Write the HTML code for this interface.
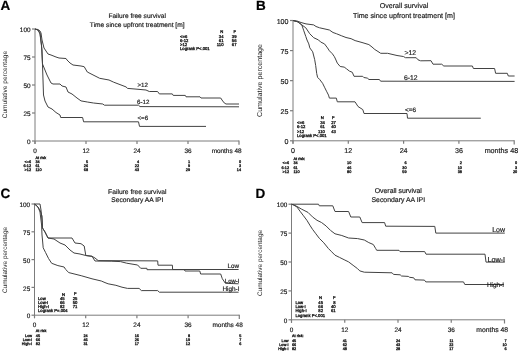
<!DOCTYPE html>
<html><head><meta charset="utf-8"><style>
html,body{margin:0;padding:0;background:#fff;width:520px;height:355px;overflow:hidden;}
svg{display:block;font-family:"Liberation Sans", sans-serif;filter:blur(0.4px);text-rendering:geometricPrecision;}
</style></head><body>
<svg width="520" height="355" viewBox="0 0 520 355" font-family='"Liberation Sans", sans-serif'>
<rect width="520" height="355" fill="#fff"/>
<text x="0.6" y="9.6" font-size="13.5" text-anchor="start" font-weight="bold" fill="#000" stroke="#000" stroke-width="0.18" >A</text>
<text x="137.2" y="17.8" font-size="6.6" text-anchor="middle" font-weight="normal" fill="#1a1a1a" stroke="#1a1a1a" stroke-width="0.18" >Failure free survival</text>
<text x="137.2" y="26.5" font-size="6.6" text-anchor="middle" font-weight="normal" fill="#1a1a1a" stroke="#1a1a1a" stroke-width="0.18" >Time since upfront treatment [m]</text>
<line x1="35" y1="29" x2="35" y2="144.0" stroke="#7c7c7c" stroke-width="1.0"/>
<line x1="35" y1="141.0" x2="239" y2="141.0" stroke="#7c7c7c" stroke-width="1.0"/>
<line x1="32" y1="29.0" x2="35" y2="29.0" stroke="#7c7c7c" stroke-width="1.2"/>
<text x="30.5" y="32.2" font-size="6.4" text-anchor="end" font-weight="normal" fill="#1a1a1a" stroke="#1a1a1a" stroke-width="0.18" >100</text>
<line x1="32" y1="57.0" x2="35" y2="57.0" stroke="#7c7c7c" stroke-width="1.2"/>
<text x="30.5" y="60.2" font-size="6.4" text-anchor="end" font-weight="normal" fill="#1a1a1a" stroke="#1a1a1a" stroke-width="0.18" >75</text>
<line x1="32" y1="85.0" x2="35" y2="85.0" stroke="#7c7c7c" stroke-width="1.2"/>
<text x="30.5" y="88.2" font-size="6.4" text-anchor="end" font-weight="normal" fill="#1a1a1a" stroke="#1a1a1a" stroke-width="0.18" >50</text>
<line x1="32" y1="113.0" x2="35" y2="113.0" stroke="#7c7c7c" stroke-width="1.2"/>
<text x="30.5" y="116.2" font-size="6.4" text-anchor="end" font-weight="normal" fill="#1a1a1a" stroke="#1a1a1a" stroke-width="0.18" >25</text>
<line x1="32" y1="141.0" x2="35" y2="141.0" stroke="#7c7c7c" stroke-width="1.2"/>
<text x="30.5" y="144.2" font-size="6.4" text-anchor="end" font-weight="normal" fill="#1a1a1a" stroke="#1a1a1a" stroke-width="0.18" >0</text>
<line x1="35" y1="141.0" x2="35" y2="144.0" stroke="#7c7c7c" stroke-width="1.2"/>
<text x="35" y="153.0" font-size="6.4" text-anchor="middle" font-weight="normal" fill="#1a1a1a" stroke="#1a1a1a" stroke-width="0.18" >0</text>
<line x1="86" y1="141.0" x2="86" y2="144.0" stroke="#7c7c7c" stroke-width="1.2"/>
<text x="86" y="153.0" font-size="6.4" text-anchor="middle" font-weight="normal" fill="#1a1a1a" stroke="#1a1a1a" stroke-width="0.18" >12</text>
<line x1="137" y1="141.0" x2="137" y2="144.0" stroke="#7c7c7c" stroke-width="1.2"/>
<text x="137" y="153.0" font-size="6.4" text-anchor="middle" font-weight="normal" fill="#1a1a1a" stroke="#1a1a1a" stroke-width="0.18" >24</text>
<line x1="188" y1="141.0" x2="188" y2="144.0" stroke="#7c7c7c" stroke-width="1.2"/>
<text x="188" y="153.0" font-size="6.4" text-anchor="middle" font-weight="normal" fill="#1a1a1a" stroke="#1a1a1a" stroke-width="0.18" >36</text>
<line x1="239" y1="140.5" x2="239" y2="144.7" stroke="#7c7c7c" stroke-width="1.2"/>
<text x="241.5" y="153.0" font-size="6.4" text-anchor="end" font-weight="normal" fill="#1a1a1a" stroke="#1a1a1a" stroke-width="0.18" >months 48</text>
<text x="0" y="0" font-size="6.55" text-anchor="middle" fill="#1a1a1a" transform="translate(6.9,84.6) rotate(-90)">Cumulative percentage</text>
<polyline points="35,29 38,29.5 40,31 41,33 42,40 44,48 46,51 48,54 51,55 56,57 59,58 66,58.5 67,60 70,63 73,65 81,66 84.2,66.7 87.3,72 99.7,78.3 109,80 113.7,82.2 126,86.9 127.6,88.4 137,89.2 146,90 149.3,91.5 157.6,91.5 159.3,93.9 172.3,93.9 173.2,95.4 185.3,95.4 186,96.8 200,96.8 201,98 220.7,98 222,100 224.2,102.9 226,104 239,104" fill="none" stroke="#424242" stroke-width="1.0" stroke-linejoin="round"/>
<polyline points="35,29 38,30 40,33 41.5,45 42,55 42.5,64 47,75 51,83 53,84 60,84 62,86 66,87 68,92 72,94 77,98 81,100.9 87.3,102 93.5,103 102.8,104 104.4,105.2 138.5,105.2 140,106.6 239,106.8" fill="none" stroke="#424242" stroke-width="1.0" stroke-linejoin="round"/>
<polyline points="35,29 38,30 40,34 42,50 43,80 43.5,95 45,101 48,107 52,109 56,112.5 60,115 60.7,117.5 82.6,117.5 83.6,121.8 138.5,121.8 139.5,126.4 206,126.4" fill="none" stroke="#424242" stroke-width="1.0" stroke-linejoin="round"/>
<text x="137.5" y="87" font-size="6.2" text-anchor="start" font-weight="normal" fill="#1a1a1a" stroke="#1a1a1a" stroke-width="0.18" >&gt;12</text>
<text x="137" y="104" font-size="6.2" text-anchor="start" font-weight="normal" fill="#1a1a1a" stroke="#1a1a1a" stroke-width="0.18" >6-12</text>
<text x="137.5" y="120.2" font-size="6.2" text-anchor="start" font-weight="normal" fill="#1a1a1a" stroke="#1a1a1a" stroke-width="0.18" >&lt;=6</text>
<text x="221.7" y="33.3" font-size="4.2" text-anchor="middle" font-weight="normal" fill="#1a1a1a" stroke="#1a1a1a" stroke-width="0.32" >N</text>
<text x="234.8" y="33.3" font-size="4.2" text-anchor="middle" font-weight="normal" fill="#1a1a1a" stroke="#1a1a1a" stroke-width="0.32" >F</text>
<text x="180" y="37.5" font-size="4.2" text-anchor="start" font-weight="normal" fill="#1a1a1a" stroke="#1a1a1a" stroke-width="0.32" >&lt;=6</text>
<text x="223.5" y="37.5" font-size="4.2" text-anchor="end" font-weight="normal" fill="#1a1a1a" stroke="#1a1a1a" stroke-width="0.32" >34</text>
<text x="236.5" y="37.5" font-size="4.2" text-anchor="end" font-weight="normal" fill="#1a1a1a" stroke="#1a1a1a" stroke-width="0.32" >39</text>
<text x="180" y="41.8" font-size="4.2" text-anchor="start" font-weight="normal" fill="#1a1a1a" stroke="#1a1a1a" stroke-width="0.32" >6-12</text>
<text x="223.5" y="41.8" font-size="4.2" text-anchor="end" font-weight="normal" fill="#1a1a1a" stroke="#1a1a1a" stroke-width="0.32" >61</text>
<text x="236.5" y="41.8" font-size="4.2" text-anchor="end" font-weight="normal" fill="#1a1a1a" stroke="#1a1a1a" stroke-width="0.32" >56</text>
<text x="180" y="46.1" font-size="4.2" text-anchor="start" font-weight="normal" fill="#1a1a1a" stroke="#1a1a1a" stroke-width="0.32" >&gt;12</text>
<text x="223.5" y="46.1" font-size="4.2" text-anchor="end" font-weight="normal" fill="#1a1a1a" stroke="#1a1a1a" stroke-width="0.32" >110</text>
<text x="236.5" y="46.1" font-size="4.2" text-anchor="end" font-weight="normal" fill="#1a1a1a" stroke="#1a1a1a" stroke-width="0.32" >67</text>
<text x="180" y="50.4" font-size="4.2" text-anchor="start" font-weight="normal" fill="#1a1a1a" stroke="#1a1a1a" stroke-width="0.32" >Logrank P&lt;.001</text>
<text x="35.5" y="159" font-size="3.8" text-anchor="start" font-weight="normal" fill="#1a1a1a" stroke="#1a1a1a" stroke-width="0.32" >At risk</text>
<text x="31" y="163.0" font-size="3.8" text-anchor="end" font-weight="normal" fill="#1a1a1a" stroke="#1a1a1a" stroke-width="0.32" >&lt;=6</text>
<text x="35.5" y="163.0" font-size="3.8" text-anchor="start" font-weight="normal" fill="#1a1a1a" stroke="#1a1a1a" stroke-width="0.32" >34</text>
<text x="88" y="163.0" font-size="3.8" text-anchor="end" font-weight="normal" fill="#1a1a1a" stroke="#1a1a1a" stroke-width="0.32" >5</text>
<text x="139" y="163.0" font-size="3.8" text-anchor="end" font-weight="normal" fill="#1a1a1a" stroke="#1a1a1a" stroke-width="0.32" >4</text>
<text x="190" y="163.0" font-size="3.8" text-anchor="end" font-weight="normal" fill="#1a1a1a" stroke="#1a1a1a" stroke-width="0.32" >1</text>
<text x="241" y="163.0" font-size="3.8" text-anchor="end" font-weight="normal" fill="#1a1a1a" stroke="#1a1a1a" stroke-width="0.32" >0</text>
<text x="31" y="167.2" font-size="3.8" text-anchor="end" font-weight="normal" fill="#1a1a1a" stroke="#1a1a1a" stroke-width="0.32" >6-12</text>
<text x="35.5" y="167.2" font-size="3.8" text-anchor="start" font-weight="normal" fill="#1a1a1a" stroke="#1a1a1a" stroke-width="0.32" >61</text>
<text x="88" y="167.2" font-size="3.8" text-anchor="end" font-weight="normal" fill="#1a1a1a" stroke="#1a1a1a" stroke-width="0.32" >26</text>
<text x="139" y="167.2" font-size="3.8" text-anchor="end" font-weight="normal" fill="#1a1a1a" stroke="#1a1a1a" stroke-width="0.32" >22</text>
<text x="190" y="167.2" font-size="3.8" text-anchor="end" font-weight="normal" fill="#1a1a1a" stroke="#1a1a1a" stroke-width="0.32" >9</text>
<text x="241" y="167.2" font-size="3.8" text-anchor="end" font-weight="normal" fill="#1a1a1a" stroke="#1a1a1a" stroke-width="0.32" >3</text>
<text x="31" y="171.4" font-size="3.8" text-anchor="end" font-weight="normal" fill="#1a1a1a" stroke="#1a1a1a" stroke-width="0.32" >&gt;12</text>
<text x="35.5" y="171.4" font-size="3.8" text-anchor="start" font-weight="normal" fill="#1a1a1a" stroke="#1a1a1a" stroke-width="0.32" >110</text>
<text x="88" y="171.4" font-size="3.8" text-anchor="end" font-weight="normal" fill="#1a1a1a" stroke="#1a1a1a" stroke-width="0.32" >68</text>
<text x="139" y="171.4" font-size="3.8" text-anchor="end" font-weight="normal" fill="#1a1a1a" stroke="#1a1a1a" stroke-width="0.32" >43</text>
<text x="190" y="171.4" font-size="3.8" text-anchor="end" font-weight="normal" fill="#1a1a1a" stroke="#1a1a1a" stroke-width="0.32" >29</text>
<text x="241" y="171.4" font-size="3.8" text-anchor="end" font-weight="normal" fill="#1a1a1a" stroke="#1a1a1a" stroke-width="0.32" >14</text>
<text x="255.9" y="9.6" font-size="13.5" text-anchor="start" font-weight="bold" fill="#000" stroke="#000" stroke-width="0.18" >B</text>
<text x="404" y="8.1" font-size="7.1" text-anchor="middle" font-weight="normal" fill="#1a1a1a" stroke="#1a1a1a" stroke-width="0.18" >Overall survival</text>
<text x="404" y="17.9" font-size="7.1" text-anchor="middle" font-weight="normal" fill="#1a1a1a" stroke="#1a1a1a" stroke-width="0.18" >Time since upfront treatment [m]</text>
<line x1="293" y1="20.5" x2="293" y2="143.8" stroke="#7c7c7c" stroke-width="1.0"/>
<line x1="293" y1="140.8" x2="514.2" y2="140.8" stroke="#7c7c7c" stroke-width="1.0"/>
<line x1="290" y1="20.5" x2="293" y2="20.5" stroke="#7c7c7c" stroke-width="1.2"/>
<text x="288.5" y="23.7" font-size="7.1" text-anchor="end" font-weight="normal" fill="#1a1a1a" stroke="#1a1a1a" stroke-width="0.18" >100</text>
<line x1="290" y1="50.575" x2="293" y2="50.575" stroke="#7c7c7c" stroke-width="1.2"/>
<text x="288.5" y="53.775000000000006" font-size="7.1" text-anchor="end" font-weight="normal" fill="#1a1a1a" stroke="#1a1a1a" stroke-width="0.18" >75</text>
<line x1="290" y1="80.65" x2="293" y2="80.65" stroke="#7c7c7c" stroke-width="1.2"/>
<text x="288.5" y="83.85000000000001" font-size="7.1" text-anchor="end" font-weight="normal" fill="#1a1a1a" stroke="#1a1a1a" stroke-width="0.18" >50</text>
<line x1="290" y1="110.72500000000001" x2="293" y2="110.72500000000001" stroke="#7c7c7c" stroke-width="1.2"/>
<text x="288.5" y="113.92500000000001" font-size="7.1" text-anchor="end" font-weight="normal" fill="#1a1a1a" stroke="#1a1a1a" stroke-width="0.18" >25</text>
<line x1="290" y1="140.8" x2="293" y2="140.8" stroke="#7c7c7c" stroke-width="1.2"/>
<text x="288.5" y="144.0" font-size="7.1" text-anchor="end" font-weight="normal" fill="#1a1a1a" stroke="#1a1a1a" stroke-width="0.18" >0</text>
<line x1="293.0" y1="140.8" x2="293.0" y2="143.8" stroke="#7c7c7c" stroke-width="1.2"/>
<text x="293.0" y="152.8" font-size="7.1" text-anchor="middle" font-weight="normal" fill="#1a1a1a" stroke="#1a1a1a" stroke-width="0.18" >0</text>
<line x1="348.3" y1="140.8" x2="348.3" y2="143.8" stroke="#7c7c7c" stroke-width="1.2"/>
<text x="348.3" y="152.8" font-size="7.1" text-anchor="middle" font-weight="normal" fill="#1a1a1a" stroke="#1a1a1a" stroke-width="0.18" >12</text>
<line x1="403.6" y1="140.8" x2="403.6" y2="143.8" stroke="#7c7c7c" stroke-width="1.2"/>
<text x="403.6" y="152.8" font-size="7.1" text-anchor="middle" font-weight="normal" fill="#1a1a1a" stroke="#1a1a1a" stroke-width="0.18" >24</text>
<line x1="458.9" y1="140.8" x2="458.9" y2="143.8" stroke="#7c7c7c" stroke-width="1.2"/>
<text x="458.9" y="152.8" font-size="7.1" text-anchor="middle" font-weight="normal" fill="#1a1a1a" stroke="#1a1a1a" stroke-width="0.18" >36</text>
<line x1="514.2" y1="140.3" x2="514.2" y2="144.5" stroke="#7c7c7c" stroke-width="1.2"/>
<text x="518.2" y="152.8" font-size="7.2" text-anchor="end" font-weight="normal" fill="#1a1a1a" stroke="#1a1a1a" stroke-width="0.18" >months 48</text>
<text x="0" y="0" font-size="7.1" text-anchor="middle" fill="#1a1a1a" transform="translate(262.4,80.5) rotate(-90)">Cumulative percentage</text>
<polyline points="293,20.5 297,21 301,22.5 306,23.9 313.7,24.9 316,26.5 319.6,27.8 325,29 329.4,30 333,32.5 336.4,33.7 341.3,35.7 346,37.5 351.1,38.7 355.1,40.6 362,42.5 368.9,44.6 372,47 374.8,49.5 378,51.5 380.7,53.3 387.6,53.3 397,55.5 403.4,56.5 405.5,57.7 416.2,57.7 418,59.8 420.6,60.8 431,60.7 433,64.2 441.7,64.2 443.8,66 472.4,66 473.4,68.5 494.6,68.5 495.6,73.3 507.3,73.3 508.3,76 514.6,76" fill="none" stroke="#424242" stroke-width="1.0" stroke-linejoin="round"/>
<polyline points="293,20.5 297.9,21.9 301.8,24.9 305.8,27.8 309.7,33.7 313.7,37.7 318.6,40 320.6,42 324.5,43.9 327.5,47.9 329.4,50.8 332.4,53.8 334.4,56.7 335.5,59 337.3,63.1 340.2,66.5 344.2,67.1 346.5,68.8 349.4,71.1 352.3,72.3 354,76.3 362.7,76.3 363.8,77.5 367.3,78.1 369,79.5 379.4,79.5 380.6,81.2 514.6,81.4" fill="none" stroke="#424242" stroke-width="1.0" stroke-linejoin="round"/>
<polyline points="293,20.5 297.9,21.9 301.8,24.9 303.8,30.8 305.8,36.5 307,40 308.8,43.9 309.8,47.9 312.7,51.8 314.7,59.7 315.7,65.6 316.7,73.5 317.6,77.4 319.6,79.4 322.6,83.3 324.5,87.2 326.5,91.2 328.5,95.1 329.4,98.1 336.3,98.1 337.3,101.8 355,101.8 358,106.5 362.8,109.6 364,113.5 407,113.5 407.5,118.2 480.8,118.2" fill="none" stroke="#424242" stroke-width="1.0" stroke-linejoin="round"/>
<text x="404.5" y="54.7" font-size="6.8" text-anchor="start" font-weight="normal" fill="#1a1a1a" stroke="#1a1a1a" stroke-width="0.18" >&gt;12</text>
<text x="404" y="79.6" font-size="6.8" text-anchor="start" font-weight="normal" fill="#1a1a1a" stroke="#1a1a1a" stroke-width="0.18" >6-12</text>
<text x="405" y="112.2" font-size="6.4" text-anchor="start" font-weight="normal" fill="#1a1a1a" stroke="#1a1a1a" stroke-width="0.18" >&lt;=6</text>
<text x="322.2" y="119.2" font-size="4.2" text-anchor="middle" font-weight="normal" fill="#1a1a1a" stroke="#1a1a1a" stroke-width="0.32" >N</text>
<text x="333.2" y="119.2" font-size="4.2" text-anchor="middle" font-weight="normal" fill="#1a1a1a" stroke="#1a1a1a" stroke-width="0.32" >F</text>
<text x="297" y="123.8" font-size="4.2" text-anchor="start" font-weight="normal" fill="#1a1a1a" stroke="#1a1a1a" stroke-width="0.32" >&lt;=6</text>
<text x="324.8" y="123.8" font-size="4.2" text-anchor="end" font-weight="normal" fill="#1a1a1a" stroke="#1a1a1a" stroke-width="0.32" >34</text>
<text x="335.8" y="123.8" font-size="4.2" text-anchor="end" font-weight="normal" fill="#1a1a1a" stroke="#1a1a1a" stroke-width="0.32" >27</text>
<text x="297" y="128.3" font-size="4.2" text-anchor="start" font-weight="normal" fill="#1a1a1a" stroke="#1a1a1a" stroke-width="0.32" >6-12</text>
<text x="324.8" y="128.3" font-size="4.2" text-anchor="end" font-weight="normal" fill="#1a1a1a" stroke="#1a1a1a" stroke-width="0.32" >61</text>
<text x="335.8" y="128.3" font-size="4.2" text-anchor="end" font-weight="normal" fill="#1a1a1a" stroke="#1a1a1a" stroke-width="0.32" >40</text>
<text x="297" y="132.8" font-size="4.2" text-anchor="start" font-weight="normal" fill="#1a1a1a" stroke="#1a1a1a" stroke-width="0.32" >&gt;12</text>
<text x="324.8" y="132.8" font-size="4.2" text-anchor="end" font-weight="normal" fill="#1a1a1a" stroke="#1a1a1a" stroke-width="0.32" >110</text>
<text x="335.8" y="132.8" font-size="4.2" text-anchor="end" font-weight="normal" fill="#1a1a1a" stroke="#1a1a1a" stroke-width="0.32" >43</text>
<text x="297" y="137.3" font-size="4.2" text-anchor="start" font-weight="normal" fill="#1a1a1a" stroke="#1a1a1a" stroke-width="0.32" >Logrank P&lt;.001</text>
<text x="293.5" y="160.2" font-size="3.8" text-anchor="start" font-weight="normal" fill="#1a1a1a" stroke="#1a1a1a" stroke-width="0.32" >At risk:</text>
<text x="289" y="164.3" font-size="3.8" text-anchor="end" font-weight="normal" fill="#1a1a1a" stroke="#1a1a1a" stroke-width="0.32" >&lt;=6</text>
<text x="293.5" y="164.3" font-size="3.8" text-anchor="start" font-weight="normal" fill="#1a1a1a" stroke="#1a1a1a" stroke-width="0.32" >34</text>
<text x="351.3" y="164.3" font-size="3.8" text-anchor="end" font-weight="normal" fill="#1a1a1a" stroke="#1a1a1a" stroke-width="0.32" >10</text>
<text x="406.6" y="164.3" font-size="3.8" text-anchor="end" font-weight="normal" fill="#1a1a1a" stroke="#1a1a1a" stroke-width="0.32" >6</text>
<text x="461.9" y="164.3" font-size="3.8" text-anchor="end" font-weight="normal" fill="#1a1a1a" stroke="#1a1a1a" stroke-width="0.32" >2</text>
<text x="517.2" y="164.3" font-size="3.8" text-anchor="end" font-weight="normal" fill="#1a1a1a" stroke="#1a1a1a" stroke-width="0.32" >0</text>
<text x="289" y="168.5" font-size="3.8" text-anchor="end" font-weight="normal" fill="#1a1a1a" stroke="#1a1a1a" stroke-width="0.32" >6-12</text>
<text x="293.5" y="168.5" font-size="3.8" text-anchor="start" font-weight="normal" fill="#1a1a1a" stroke="#1a1a1a" stroke-width="0.32" >61</text>
<text x="351.3" y="168.5" font-size="3.8" text-anchor="end" font-weight="normal" fill="#1a1a1a" stroke="#1a1a1a" stroke-width="0.32" >46</text>
<text x="406.6" y="168.5" font-size="3.8" text-anchor="end" font-weight="normal" fill="#1a1a1a" stroke="#1a1a1a" stroke-width="0.32" >30</text>
<text x="461.9" y="168.5" font-size="3.8" text-anchor="end" font-weight="normal" fill="#1a1a1a" stroke="#1a1a1a" stroke-width="0.32" >10</text>
<text x="517.2" y="168.5" font-size="3.8" text-anchor="end" font-weight="normal" fill="#1a1a1a" stroke="#1a1a1a" stroke-width="0.32" >3</text>
<text x="289" y="172.70000000000002" font-size="3.8" text-anchor="end" font-weight="normal" fill="#1a1a1a" stroke="#1a1a1a" stroke-width="0.32" >&gt;12</text>
<text x="293.5" y="172.70000000000002" font-size="3.8" text-anchor="start" font-weight="normal" fill="#1a1a1a" stroke="#1a1a1a" stroke-width="0.32" >110</text>
<text x="351.3" y="172.70000000000002" font-size="3.8" text-anchor="end" font-weight="normal" fill="#1a1a1a" stroke="#1a1a1a" stroke-width="0.32" >80</text>
<text x="406.6" y="172.70000000000002" font-size="3.8" text-anchor="end" font-weight="normal" fill="#1a1a1a" stroke="#1a1a1a" stroke-width="0.32" >59</text>
<text x="461.9" y="172.70000000000002" font-size="3.8" text-anchor="end" font-weight="normal" fill="#1a1a1a" stroke="#1a1a1a" stroke-width="0.32" >38</text>
<text x="517.2" y="172.70000000000002" font-size="3.8" text-anchor="end" font-weight="normal" fill="#1a1a1a" stroke="#1a1a1a" stroke-width="0.32" >20</text>
<text x="0.6" y="197.6" font-size="13.5" text-anchor="start" font-weight="bold" fill="#000" stroke="#000" stroke-width="0.18" >C</text>
<text x="137.3" y="193.6" font-size="6.7" text-anchor="middle" font-weight="normal" fill="#1a1a1a" stroke="#1a1a1a" stroke-width="0.18" >Failure free survival</text>
<text x="137.3" y="202.0" font-size="6.7" text-anchor="middle" font-weight="normal" fill="#1a1a1a" stroke="#1a1a1a" stroke-width="0.18" >Secondary AA IPI</text>
<line x1="34.5" y1="204" x2="34.5" y2="318.2" stroke="#7c7c7c" stroke-width="1.0"/>
<line x1="34.5" y1="315.2" x2="239.3" y2="315.2" stroke="#7c7c7c" stroke-width="1.0"/>
<line x1="31.5" y1="204.0" x2="34.5" y2="204.0" stroke="#7c7c7c" stroke-width="1.2"/>
<text x="30.2" y="207.2" font-size="6.4" text-anchor="end" font-weight="normal" fill="#1a1a1a" stroke="#1a1a1a" stroke-width="0.18" >100</text>
<line x1="31.5" y1="231.8" x2="34.5" y2="231.8" stroke="#7c7c7c" stroke-width="1.2"/>
<text x="30.2" y="235.0" font-size="6.4" text-anchor="end" font-weight="normal" fill="#1a1a1a" stroke="#1a1a1a" stroke-width="0.18" >75</text>
<line x1="31.5" y1="259.6" x2="34.5" y2="259.6" stroke="#7c7c7c" stroke-width="1.2"/>
<text x="30.2" y="262.8" font-size="6.4" text-anchor="end" font-weight="normal" fill="#1a1a1a" stroke="#1a1a1a" stroke-width="0.18" >50</text>
<line x1="31.5" y1="287.4" x2="34.5" y2="287.4" stroke="#7c7c7c" stroke-width="1.2"/>
<text x="30.2" y="290.59999999999997" font-size="6.4" text-anchor="end" font-weight="normal" fill="#1a1a1a" stroke="#1a1a1a" stroke-width="0.18" >25</text>
<line x1="31.5" y1="315.2" x2="34.5" y2="315.2" stroke="#7c7c7c" stroke-width="1.2"/>
<text x="30.2" y="318.4" font-size="6.4" text-anchor="end" font-weight="normal" fill="#1a1a1a" stroke="#1a1a1a" stroke-width="0.18" >0</text>
<line x1="34.5" y1="315.2" x2="34.5" y2="318.2" stroke="#7c7c7c" stroke-width="1.2"/>
<text x="34.5" y="327.2" font-size="6.4" text-anchor="middle" font-weight="normal" fill="#1a1a1a" stroke="#1a1a1a" stroke-width="0.18" >0</text>
<line x1="85.7" y1="315.2" x2="85.7" y2="318.2" stroke="#7c7c7c" stroke-width="1.2"/>
<text x="85.7" y="327.2" font-size="6.4" text-anchor="middle" font-weight="normal" fill="#1a1a1a" stroke="#1a1a1a" stroke-width="0.18" >12</text>
<line x1="136.9" y1="315.2" x2="136.9" y2="318.2" stroke="#7c7c7c" stroke-width="1.2"/>
<text x="136.9" y="327.2" font-size="6.4" text-anchor="middle" font-weight="normal" fill="#1a1a1a" stroke="#1a1a1a" stroke-width="0.18" >24</text>
<line x1="188.10000000000002" y1="315.2" x2="188.10000000000002" y2="318.2" stroke="#7c7c7c" stroke-width="1.2"/>
<text x="188.10000000000002" y="327.2" font-size="6.4" text-anchor="middle" font-weight="normal" fill="#1a1a1a" stroke="#1a1a1a" stroke-width="0.18" >36</text>
<line x1="239.3" y1="314.7" x2="239.3" y2="318.9" stroke="#7c7c7c" stroke-width="1.2"/>
<text x="242.8" y="327.2" font-size="6.5" text-anchor="end" font-weight="normal" fill="#1a1a1a" stroke="#1a1a1a" stroke-width="0.18" >months 48</text>
<text x="0" y="0" font-size="6.45" text-anchor="middle" fill="#1a1a1a" transform="translate(6.6,260) rotate(-90)">Cumulative percentage</text>
<polyline points="34.5,204 40,204 41,210 42,220 42.5,228 45,232 48,238 72,238 75,243 81,243.7 84.2,246 85.8,255.5 92,256.3 95,258 98.2,260.6 157.7,260.9 158,265.2 172.4,265.2 172.6,269.5 238.6,269.5" fill="none" stroke="#424242" stroke-width="1.0" stroke-linejoin="round"/>
<polyline points="34.5,204 37,206 40,210 42,216 42.5,228 45,232 48,238 54,239 60,243 65,245 70,250 74,253 80,254 85.8,255.5 92,256.3 95,261 111.2,261.2 120.5,261.6 126.7,263.2 137.6,265 140.7,268.3 146.9,268.3 147,269.7 184.3,269.7 185,271 199.8,271 200.6,274 220.7,274 222.3,278.7 225.4,283.3 238.6,283.8" fill="none" stroke="#424242" stroke-width="1.0" stroke-linejoin="round"/>
<polyline points="34.5,204 38,207 40,212 41.6,225 42,235 42.5,240 43.2,247.8 45.5,252.4 48.6,258.6 51.7,263.3 57.9,265.6 64.1,267 65.7,269.5 68.8,272.6 81.2,275.7 92,278.8 101.3,281 105,282.6 108.1,283.8 115.9,285.3 122,287.2 127.5,288.4 139.1,288.4 141.4,290.6 157.7,290.6 159.3,292.2 238.6,292.2" fill="none" stroke="#424242" stroke-width="1.0" stroke-linejoin="round"/>
<text x="239" y="267.8" font-size="6.3" text-anchor="end" font-weight="normal" fill="#1a1a1a" stroke="#1a1a1a" stroke-width="0.18" >Low</text>
<text x="239.5" y="283.3" font-size="6.0" text-anchor="end" font-weight="normal" fill="#1a1a1a" stroke="#1a1a1a" stroke-width="0.18" >Low-I</text>
<text x="239.5" y="291" font-size="6.4" text-anchor="end" font-weight="normal" fill="#1a1a1a" stroke="#1a1a1a" stroke-width="0.18" >High-I</text>
<text x="63.6" y="295.8" font-size="4.2" text-anchor="middle" font-weight="normal" fill="#1a1a1a" stroke="#1a1a1a" stroke-width="0.32" >N</text>
<text x="75.2" y="295.4" font-size="4.2" text-anchor="middle" font-weight="normal" fill="#1a1a1a" stroke="#1a1a1a" stroke-width="0.32" >F</text>
<text x="38" y="299.8" font-size="4.2" text-anchor="start" font-weight="normal" fill="#1a1a1a" stroke="#1a1a1a" stroke-width="0.32" >Low</text>
<text x="64.6" y="299.8" font-size="4.2" text-anchor="end" font-weight="normal" fill="#1a1a1a" stroke="#1a1a1a" stroke-width="0.32" >45</text>
<text x="77.3" y="299.8" font-size="4.2" text-anchor="end" font-weight="normal" fill="#1a1a1a" stroke="#1a1a1a" stroke-width="0.32" >25</text>
<text x="38" y="303.90000000000003" font-size="4.2" text-anchor="start" font-weight="normal" fill="#1a1a1a" stroke="#1a1a1a" stroke-width="0.32" >Low-I</text>
<text x="64.6" y="303.90000000000003" font-size="4.2" text-anchor="end" font-weight="normal" fill="#1a1a1a" stroke="#1a1a1a" stroke-width="0.32" >66</text>
<text x="77.3" y="303.90000000000003" font-size="4.2" text-anchor="end" font-weight="normal" fill="#1a1a1a" stroke="#1a1a1a" stroke-width="0.32" >50</text>
<text x="38" y="308.0" font-size="4.2" text-anchor="start" font-weight="normal" fill="#1a1a1a" stroke="#1a1a1a" stroke-width="0.32" >High-I</text>
<text x="64.6" y="308.0" font-size="4.2" text-anchor="end" font-weight="normal" fill="#1a1a1a" stroke="#1a1a1a" stroke-width="0.32" >82</text>
<text x="77.3" y="308.0" font-size="4.2" text-anchor="end" font-weight="normal" fill="#1a1a1a" stroke="#1a1a1a" stroke-width="0.32" >71</text>
<text x="38" y="312" font-size="4.2" text-anchor="start" font-weight="normal" fill="#1a1a1a" stroke="#1a1a1a" stroke-width="0.32" >Logrank P=.004</text>
<text x="35.8" y="331.8" font-size="3.8" text-anchor="start" font-weight="normal" fill="#1a1a1a" stroke="#1a1a1a" stroke-width="0.32" >At risk</text>
<text x="32" y="336.5" font-size="3.8" text-anchor="end" font-weight="normal" fill="#1a1a1a" stroke="#1a1a1a" stroke-width="0.32" >Low</text>
<text x="35.8" y="336.5" font-size="3.8" text-anchor="start" font-weight="normal" fill="#1a1a1a" stroke="#1a1a1a" stroke-width="0.32" >45</text>
<text x="87.7" y="336.5" font-size="3.8" text-anchor="end" font-weight="normal" fill="#1a1a1a" stroke="#1a1a1a" stroke-width="0.32" >24</text>
<text x="138.9" y="336.5" font-size="3.8" text-anchor="end" font-weight="normal" fill="#1a1a1a" stroke="#1a1a1a" stroke-width="0.32" >16</text>
<text x="190.1" y="336.5" font-size="3.8" text-anchor="end" font-weight="normal" fill="#1a1a1a" stroke="#1a1a1a" stroke-width="0.32" >8</text>
<text x="241.3" y="336.5" font-size="3.8" text-anchor="end" font-weight="normal" fill="#1a1a1a" stroke="#1a1a1a" stroke-width="0.32" >5</text>
<text x="32" y="340.8" font-size="3.8" text-anchor="end" font-weight="normal" fill="#1a1a1a" stroke="#1a1a1a" stroke-width="0.32" >Low-I</text>
<text x="35.8" y="340.8" font-size="3.8" text-anchor="start" font-weight="normal" fill="#1a1a1a" stroke="#1a1a1a" stroke-width="0.32" >66</text>
<text x="87.7" y="340.8" font-size="3.8" text-anchor="end" font-weight="normal" fill="#1a1a1a" stroke="#1a1a1a" stroke-width="0.32" >46</text>
<text x="138.9" y="340.8" font-size="3.8" text-anchor="end" font-weight="normal" fill="#1a1a1a" stroke="#1a1a1a" stroke-width="0.32" >26</text>
<text x="190.1" y="340.8" font-size="3.8" text-anchor="end" font-weight="normal" fill="#1a1a1a" stroke="#1a1a1a" stroke-width="0.32" >19</text>
<text x="241.3" y="340.8" font-size="3.8" text-anchor="end" font-weight="normal" fill="#1a1a1a" stroke="#1a1a1a" stroke-width="0.32" >7</text>
<text x="32" y="345.1" font-size="3.8" text-anchor="end" font-weight="normal" fill="#1a1a1a" stroke="#1a1a1a" stroke-width="0.32" >High-I</text>
<text x="35.8" y="345.1" font-size="3.8" text-anchor="start" font-weight="normal" fill="#1a1a1a" stroke="#1a1a1a" stroke-width="0.32" >82</text>
<text x="87.7" y="345.1" font-size="3.8" text-anchor="end" font-weight="normal" fill="#1a1a1a" stroke="#1a1a1a" stroke-width="0.32" >31</text>
<text x="138.9" y="345.1" font-size="3.8" text-anchor="end" font-weight="normal" fill="#1a1a1a" stroke="#1a1a1a" stroke-width="0.32" >17</text>
<text x="190.1" y="345.1" font-size="3.8" text-anchor="end" font-weight="normal" fill="#1a1a1a" stroke="#1a1a1a" stroke-width="0.32" >12</text>
<text x="241.3" y="345.1" font-size="3.8" text-anchor="end" font-weight="normal" fill="#1a1a1a" stroke="#1a1a1a" stroke-width="0.32" >6</text>
<text x="255.5" y="197.7" font-size="13.5" text-anchor="start" font-weight="bold" fill="#000" stroke="#000" stroke-width="0.18" >D</text>
<text x="398.3" y="193.4" font-size="6.9" text-anchor="middle" font-weight="normal" fill="#1a1a1a" stroke="#1a1a1a" stroke-width="0.18" >Overall survival</text>
<text x="398.3" y="201.8" font-size="6.9" text-anchor="middle" font-weight="normal" fill="#1a1a1a" stroke="#1a1a1a" stroke-width="0.18" >Secondary AA IPI</text>
<line x1="291.5" y1="204.2" x2="291.5" y2="322.8" stroke="#7c7c7c" stroke-width="1.0"/>
<line x1="291.5" y1="319.8" x2="504.5" y2="319.8" stroke="#7c7c7c" stroke-width="1.0"/>
<line x1="288.5" y1="204.2" x2="291.5" y2="204.2" stroke="#7c7c7c" stroke-width="1.2"/>
<text x="287.3" y="207.39999999999998" font-size="6.4" text-anchor="end" font-weight="normal" fill="#1a1a1a" stroke="#1a1a1a" stroke-width="0.18" >100</text>
<line x1="288.5" y1="233.1" x2="291.5" y2="233.1" stroke="#7c7c7c" stroke-width="1.2"/>
<text x="287.3" y="236.29999999999998" font-size="6.4" text-anchor="end" font-weight="normal" fill="#1a1a1a" stroke="#1a1a1a" stroke-width="0.18" >75</text>
<line x1="288.5" y1="262.0" x2="291.5" y2="262.0" stroke="#7c7c7c" stroke-width="1.2"/>
<text x="287.3" y="265.2" font-size="6.4" text-anchor="end" font-weight="normal" fill="#1a1a1a" stroke="#1a1a1a" stroke-width="0.18" >50</text>
<line x1="288.5" y1="290.9" x2="291.5" y2="290.9" stroke="#7c7c7c" stroke-width="1.2"/>
<text x="287.3" y="294.09999999999997" font-size="6.4" text-anchor="end" font-weight="normal" fill="#1a1a1a" stroke="#1a1a1a" stroke-width="0.18" >25</text>
<line x1="288.5" y1="319.8" x2="291.5" y2="319.8" stroke="#7c7c7c" stroke-width="1.2"/>
<text x="287.3" y="323.0" font-size="6.4" text-anchor="end" font-weight="normal" fill="#1a1a1a" stroke="#1a1a1a" stroke-width="0.18" >0</text>
<line x1="291.5" y1="319.8" x2="291.5" y2="322.8" stroke="#7c7c7c" stroke-width="1.2"/>
<text x="291.5" y="331.8" font-size="6.4" text-anchor="middle" font-weight="normal" fill="#1a1a1a" stroke="#1a1a1a" stroke-width="0.18" >0</text>
<line x1="344.75" y1="319.8" x2="344.75" y2="322.8" stroke="#7c7c7c" stroke-width="1.2"/>
<text x="344.75" y="331.8" font-size="6.4" text-anchor="middle" font-weight="normal" fill="#1a1a1a" stroke="#1a1a1a" stroke-width="0.18" >12</text>
<line x1="398.0" y1="319.8" x2="398.0" y2="322.8" stroke="#7c7c7c" stroke-width="1.2"/>
<text x="398.0" y="331.8" font-size="6.4" text-anchor="middle" font-weight="normal" fill="#1a1a1a" stroke="#1a1a1a" stroke-width="0.18" >24</text>
<line x1="451.25" y1="319.8" x2="451.25" y2="322.8" stroke="#7c7c7c" stroke-width="1.2"/>
<text x="451.25" y="331.8" font-size="6.4" text-anchor="middle" font-weight="normal" fill="#1a1a1a" stroke="#1a1a1a" stroke-width="0.18" >36</text>
<line x1="504.5" y1="319.3" x2="504.5" y2="323.5" stroke="#7c7c7c" stroke-width="1.2"/>
<text x="508.1" y="331.8" font-size="6.8" text-anchor="end" font-weight="normal" fill="#1a1a1a" stroke="#1a1a1a" stroke-width="0.18" >months 48</text>
<text x="0" y="0" font-size="6.45" text-anchor="middle" fill="#1a1a1a" transform="translate(262.4,263) rotate(-90)">Cumulative percentage</text>
<polyline points="291.5,204.2 318.5,204.2 319.3,205.8 332.8,205.8 334,209 335,211.5 348.6,211.5 350.8,217 359.8,217 362.1,222.6 384.6,222.6 385.7,226.2 434.8,226.4 435.8,233.1 504.8,233.1" fill="none" stroke="#424242" stroke-width="1.0" stroke-linejoin="round"/>
<polyline points="291.5,204.2 294,205 298,207 301.3,209 308,212.4 312.5,216.9 317,220.3 321.5,222.5 326,225.9 330.5,230.4 335,233.8 341.8,235.5 348.6,238 357.6,238.6 364.3,240 368.8,242.6 373.3,244.5 375.6,248.4 376.7,250.3 399,250.3 400,251.6 424.7,251.6 426,254.2 485,254.2 486,262.1 504.8,262.1" fill="none" stroke="#424242" stroke-width="1.0" stroke-linejoin="round"/>
<polyline points="291.5,204.2 293.5,205 296.8,206.8 300.1,211.3 303.5,215.8 306.9,220.3 310.3,225.9 312.5,229.3 315.9,233.8 319.3,238.3 323.8,242.8 328.3,248.4 331.7,251.8 335,255.2 339.5,257.4 344.1,259.7 348.6,261.9 353.1,265.3 357.6,268.7 359.8,270.9 364.3,272.2 392.1,272.8 393.5,274.4 400.2,274.8 401.5,276 408.3,276.4 409.6,277.3 413.7,277.8 415,279.8 424.4,280.1 425.8,281.9 463.5,281.9 464.8,284.5 503.8,284.5" fill="none" stroke="#424242" stroke-width="1.0" stroke-linejoin="round"/>
<text x="505" y="232" font-size="7.0" text-anchor="end" font-weight="normal" fill="#1a1a1a" stroke="#1a1a1a" stroke-width="0.18" >Low</text>
<text x="505" y="261.5" font-size="7.2" text-anchor="end" font-weight="normal" fill="#1a1a1a" stroke="#1a1a1a" stroke-width="0.18" >Low-I</text>
<text x="504" y="287" font-size="6.4" text-anchor="end" font-weight="normal" fill="#1a1a1a" stroke="#1a1a1a" stroke-width="0.18" >High-I</text>
<text x="320.5" y="299.2" font-size="4.2" text-anchor="middle" font-weight="normal" fill="#1a1a1a" stroke="#1a1a1a" stroke-width="0.32" >N</text>
<text x="334.3" y="299.2" font-size="4.2" text-anchor="middle" font-weight="normal" fill="#1a1a1a" stroke="#1a1a1a" stroke-width="0.32" >F</text>
<text x="295.4" y="303.8" font-size="4.2" text-anchor="start" font-weight="normal" fill="#1a1a1a" stroke="#1a1a1a" stroke-width="0.32" >Low</text>
<text x="323" y="303.8" font-size="4.2" text-anchor="end" font-weight="normal" fill="#1a1a1a" stroke="#1a1a1a" stroke-width="0.32" >45</text>
<text x="335.6" y="303.8" font-size="4.2" text-anchor="end" font-weight="normal" fill="#1a1a1a" stroke="#1a1a1a" stroke-width="0.32" >8</text>
<text x="295.4" y="307.90000000000003" font-size="4.2" text-anchor="start" font-weight="normal" fill="#1a1a1a" stroke="#1a1a1a" stroke-width="0.32" >Low-I</text>
<text x="323" y="307.90000000000003" font-size="4.2" text-anchor="end" font-weight="normal" fill="#1a1a1a" stroke="#1a1a1a" stroke-width="0.32" >66</text>
<text x="335.6" y="307.90000000000003" font-size="4.2" text-anchor="end" font-weight="normal" fill="#1a1a1a" stroke="#1a1a1a" stroke-width="0.32" >40</text>
<text x="295.4" y="312.0" font-size="4.2" text-anchor="start" font-weight="normal" fill="#1a1a1a" stroke="#1a1a1a" stroke-width="0.32" >High-I</text>
<text x="323" y="312.0" font-size="4.2" text-anchor="end" font-weight="normal" fill="#1a1a1a" stroke="#1a1a1a" stroke-width="0.32" >82</text>
<text x="335.6" y="312.0" font-size="4.2" text-anchor="end" font-weight="normal" fill="#1a1a1a" stroke="#1a1a1a" stroke-width="0.32" >61</text>
<text x="295.4" y="316.8" font-size="4.2" text-anchor="start" font-weight="normal" fill="#1a1a1a" stroke="#1a1a1a" stroke-width="0.32" >Logrank P&lt;.001</text>
<text x="292" y="337" font-size="3.8" text-anchor="start" font-weight="normal" fill="#1a1a1a" stroke="#1a1a1a" stroke-width="0.32" >At risk:</text>
<text x="288.5" y="341.6" font-size="3.8" text-anchor="end" font-weight="normal" fill="#1a1a1a" stroke="#1a1a1a" stroke-width="0.32" >Low</text>
<text x="292" y="341.6" font-size="3.8" text-anchor="start" font-weight="normal" fill="#1a1a1a" stroke="#1a1a1a" stroke-width="0.32" >45</text>
<text x="346.95" y="341.6" font-size="3.8" text-anchor="end" font-weight="normal" fill="#1a1a1a" stroke="#1a1a1a" stroke-width="0.32" >41</text>
<text x="400.2" y="341.6" font-size="3.8" text-anchor="end" font-weight="normal" fill="#1a1a1a" stroke="#1a1a1a" stroke-width="0.32" >24</text>
<text x="453.45" y="341.6" font-size="3.8" text-anchor="end" font-weight="normal" fill="#1a1a1a" stroke="#1a1a1a" stroke-width="0.32" >11</text>
<text x="506.7" y="341.6" font-size="3.8" text-anchor="end" font-weight="normal" fill="#1a1a1a" stroke="#1a1a1a" stroke-width="0.32" >7</text>
<text x="288.5" y="345.8" font-size="3.8" text-anchor="end" font-weight="normal" fill="#1a1a1a" stroke="#1a1a1a" stroke-width="0.32" >Low-I</text>
<text x="292" y="345.8" font-size="3.8" text-anchor="start" font-weight="normal" fill="#1a1a1a" stroke="#1a1a1a" stroke-width="0.32" >66</text>
<text x="346.95" y="345.8" font-size="3.8" text-anchor="end" font-weight="normal" fill="#1a1a1a" stroke="#1a1a1a" stroke-width="0.32" >62</text>
<text x="400.2" y="345.8" font-size="3.8" text-anchor="end" font-weight="normal" fill="#1a1a1a" stroke="#1a1a1a" stroke-width="0.32" >43</text>
<text x="453.45" y="345.8" font-size="3.8" text-anchor="end" font-weight="normal" fill="#1a1a1a" stroke="#1a1a1a" stroke-width="0.32" >22</text>
<text x="506.7" y="345.8" font-size="3.8" text-anchor="end" font-weight="normal" fill="#1a1a1a" stroke="#1a1a1a" stroke-width="0.32" >10</text>
<text x="288.5" y="350.0" font-size="3.8" text-anchor="end" font-weight="normal" fill="#1a1a1a" stroke="#1a1a1a" stroke-width="0.32" >High-I</text>
<text x="292" y="350.0" font-size="3.8" text-anchor="start" font-weight="normal" fill="#1a1a1a" stroke="#1a1a1a" stroke-width="0.32" >82</text>
<text x="346.95" y="350.0" font-size="3.8" text-anchor="end" font-weight="normal" fill="#1a1a1a" stroke="#1a1a1a" stroke-width="0.32" >48</text>
<text x="400.2" y="350.0" font-size="3.8" text-anchor="end" font-weight="normal" fill="#1a1a1a" stroke="#1a1a1a" stroke-width="0.32" >28</text>
<text x="453.45" y="350.0" font-size="3.8" text-anchor="end" font-weight="normal" fill="#1a1a1a" stroke="#1a1a1a" stroke-width="0.32" >17</text>
<text x="506.7" y="350.0" font-size="3.8" text-anchor="end" font-weight="normal" fill="#1a1a1a" stroke="#1a1a1a" stroke-width="0.32" >6</text>
</svg>
</body></html>
